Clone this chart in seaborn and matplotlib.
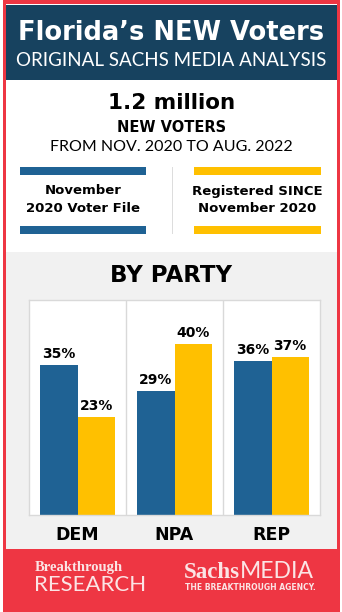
import matplotlib
matplotlib.use("Agg")
import matplotlib.pyplot as plt
import seaborn as sns
import pandas as pd
from matplotlib.patches import Rectangle

# ---- data ----
parties = ["DEM", "NPA", "REP"]
nov2020_file = [35, 29, 36]
registered_since = [23, 40, 37]
series_names = ["November 2020 Voter File", "Registered SINCE November 2020"]

BLUE = "#1F6294"
YELLOW = "#FFC000"
NAVY = "#17425F"
RED = "#EE3643"
GRAY = "#F1F1F1"
PINK = "#FBE4E5"

W, H = 342, 612
sns.set_theme(style="white")
plt.rcParams['font.family'] = ['DejaVu Sans']

fig = plt.figure(figsize=(W / 100, H / 100), dpi=100)
fig.patch.set_facecolor("white")

def fx(x):
    return x / W

def fy(y):
    return 1 - y / H

def rect(x0, y0, x1, y1, color, z=0):
    fig.patches.append(Rectangle((fx(x0), fy(y1)), fx(x1) - fx(x0), fy(y0) - fy(y1),
                                 transform=fig.transFigure, facecolor=color,
                                 edgecolor="none", zorder=z))

# background blocks
rect(3, 0, 340, 612, RED)
rect(6, 4, 337, 549, "white")
rect(6, 5, 337, 80, NAVY)
rect(6, 252, 337, 549, GRAY)

LIGHT = ["Lato", "DejaVu Sans"]

def txt(x, y, s, size, color="black", weight="normal", family=None, ha="center", **kw):
    d = dict(fontsize=size, color=color, fontweight=weight, ha=ha, va="center",
             transform=fig.transFigure, zorder=10)
    if family:
        d["family"] = family
    d.update(kw)
    fig.text(fx(x), fy(y), s, **d)

# header
txt(171.5, 33, "Florida\u2019s NEW Voters", 18.5, color="white", weight="bold")
txt(171.5, 60, "ORIGINAL SACHS MEDIA ANALYSIS", 13.5, color="white", weight="normal", family=LIGHT)

# headline
txt(171.5, 103, "1.2 million", 15.5, weight="bold")
txt(171.5, 127, "NEW VOTERS", 10.5, weight="bold")
txt(171.5, 147, "FROM NOV. 2020 TO AUG. 2022", 11.5, weight="normal", family=LIGHT)

# legend blocks
rect(20, 167, 146, 175, BLUE)
rect(20, 226, 146, 234, BLUE)
rect(194, 167, 321, 175, YELLOW)
rect(194, 226, 321, 234, YELLOW)
rect(171.5, 167, 173, 234, "#DDDDDD")
txt(83, 191, "November", 9.5, weight="bold")
txt(83, 208, "2020 Voter File", 9.5, weight="bold")
txt(257.5, 191, "Registered SINCE", 9.5, weight="bold")
txt(257.5, 208, "November 2020", 9.5, weight="bold")

# section title
txt(171.5, 276, "BY PARTY", 16.5, weight="bold")

# ---- chart ----
df = pd.DataFrame({
    "party": parties * 2,
    "share": nov2020_file + registered_since,
    "series": [series_names[0]] * 3 + [series_names[1]] * 3,
})
ax = fig.add_axes([fx(29), fy(515), fx(320) - fx(29), fy(300) - fy(515)])
ax.set_zorder(5)
sns.barplot(data=df, x="party", y="share", hue="series", order=parties,
            hue_order=series_names, palette=[BLUE, YELLOW], width=0.77,
            saturation=1, ax=ax, legend=False, errorbar=None,
            linewidth=0, edgecolor="none")
ax.set_ylim(0, 50.3)
ax.set_xlim(-0.5, 2.5)
ax.set_facecolor("white")
for sp in ax.spines.values():
    sp.set_color("#D9D9D9")
    sp.set_linewidth(1)
for xb in [0.5, 1.5]:
    ax.axvline(xb, color="#D9D9D9", lw=1, zorder=0)
ax.set_yticks([])
ax.set_xlabel("")
ax.set_ylabel("")
ax.tick_params(axis="x", length=0, pad=8)
ax.set_xticks(range(len(parties)))
ax.set_xticklabels(parties, fontsize=12.5, fontweight="bold", color="black")
for cont in ax.containers:
    ax.bar_label(cont, labels=[f"{int(v)}%" for v in cont.datavalues], padding=3,
                 fontsize=10, fontweight="bold", color="black")

# footer
txt(35, 567, "Breakthrough", 10.5, color=PINK, weight="bold", family=["Liberation Serif", "DejaVu Serif"], ha="left")
txt(34, 585, "RESEARCH", 16, color=PINK, weight="normal", family=LIGHT, ha="left")
txt(184, 572, "Sachs", 16.5, color=PINK, weight="bold", family=["Liberation Serif", "DejaVu Serif"], ha="left")
txt(314, 572, "MEDIA", 16.5, color=PINK, weight="normal", family=LIGHT, ha="right")
txt(250, 588, "THE BREAKTHROUGH AGENCY.", 5.5, color=PINK, weight="bold")

fig.savefig("out.png", dpi=100, facecolor=fig.get_facecolor())
